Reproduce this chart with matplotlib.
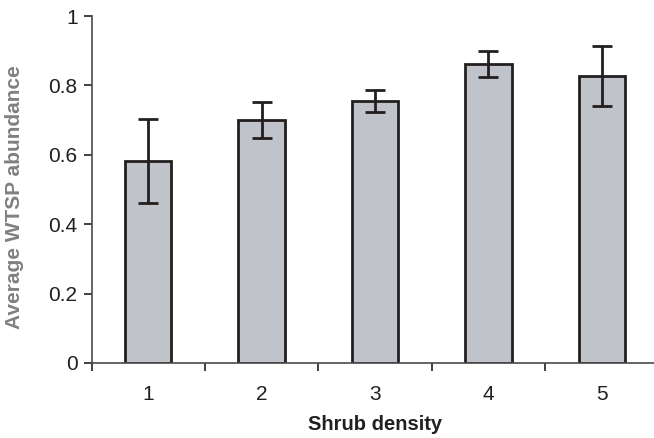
import numpy as np
import matplotlib.pyplot as plt

plt.rcParams['font.family'] = ['Liberation Sans', 'DejaVu Sans']

# values
density = ['1', '2', '3', '4', '5']
mean_abund = [0.582, 0.700, 0.756, 0.861, 0.827]
err_abund = [0.121, 0.052, 0.032, 0.037, 0.086]

fig = plt.figure(figsize=(6.54, 4.38), dpi=100)
ax = fig.add_axes([91.5 / 654, 1 - 363 / 438, (658.5 - 91.5) / 654, (363 - 16) / 438])

x = np.arange(1, len(density) + 1)
ax.bar(x, mean_abund, width=0.41, color='#c0c3ca', edgecolor='#231f20',
       linewidth=2.0, zorder=2)
ax.errorbar(x, mean_abund, yerr=err_abund, fmt='none', ecolor='#231f20',
            elinewidth=2.0, capsize=7, capthick=2.0, zorder=3)

ax.set_xlim(0.5, len(density) + 0.5)
ax.set_ylim(0, 1)
ax.set_yticks([0, 0.2, 0.4, 0.6, 0.8, 1.0])
ax.set_yticklabels(['0', '0.2', '0.4', '0.6', '0.8', '1'])

# ticks on category boundaries, labels in the middle
ax.set_xticks(np.arange(0.5, len(density) + 1.5, 1.0))
ax.set_xticklabels([])
ax.set_xticks(x, minor=True)
ax.set_xticklabels(density, minor=True)
ax.tick_params(axis='x', which='minor', length=0, pad=16, labelsize=15, colors='#231f20')
ax.tick_params(axis='x', which='major', length=6, width=1.2, direction='out', colors='#231f20')
ax.tick_params(axis='y', length=6, width=1.2, direction='out', pad=4, labelsize=15,
               colors='#231f20')

for s in ['top', 'right']:
    ax.spines[s].set_visible(False)
for s in ['left', 'bottom']:
    ax.spines[s].set_linewidth(1.2)
    ax.spines[s].set_color('#4a4a4a')

ax.set_xlabel('Shrub density', fontsize=14.5, fontweight='bold', labelpad=8, color='#231f20')
fig.text(15 / 654, 1 - 197 / 438, 'Average WTSP abundance', rotation=90, fontsize=15,
         fontweight='bold', color='#808080', ha='center', va='center')

fig.savefig('out.png', dpi=100)
